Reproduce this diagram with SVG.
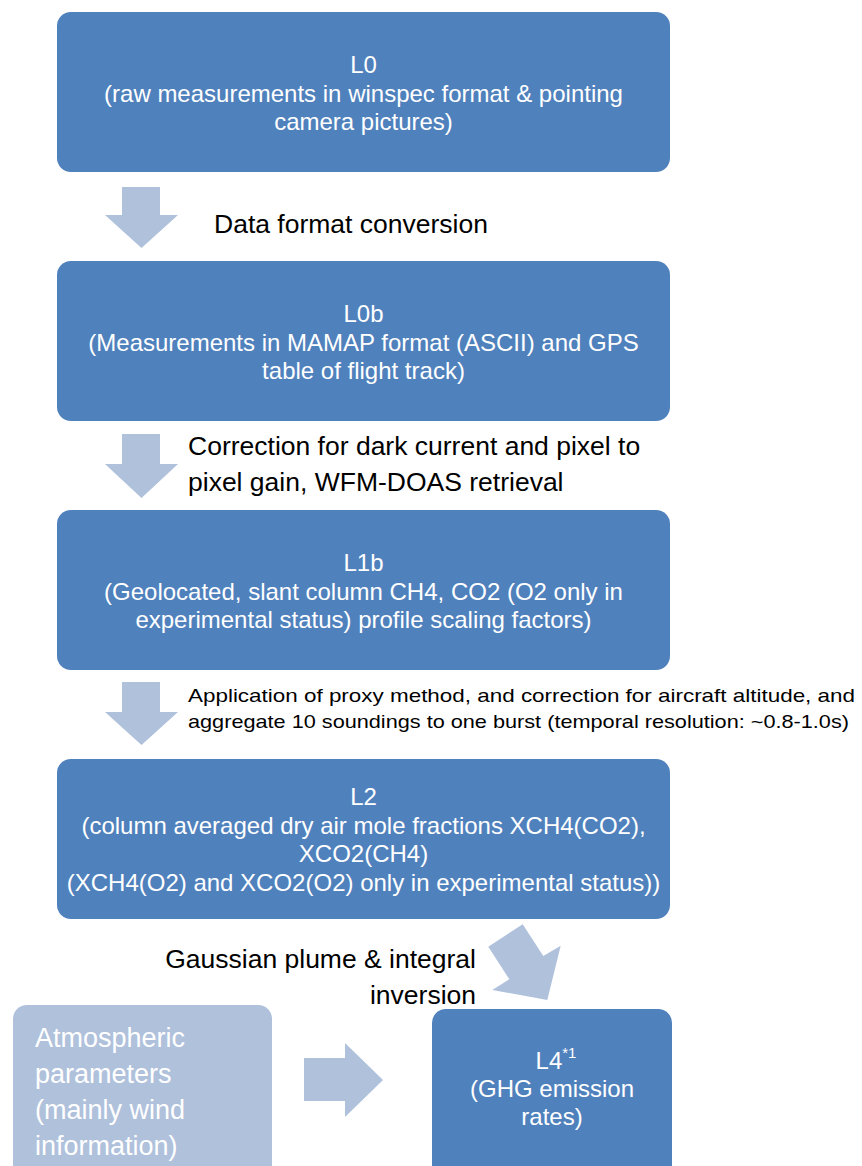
<svg xmlns="http://www.w3.org/2000/svg" width="862" height="1166" viewBox="0 0 862 1166">
<style>
.box{fill:#4F81BD;}
.lbox{fill:#B0C1DC;}
.arr{fill:#B0C1DC;}
.bt{font-family:"Liberation Sans",Arial,sans-serif;font-size:24px;fill:#fff;text-anchor:middle;}
.lt{font-family:"Liberation Sans",Arial,sans-serif;font-size:26.5px;fill:#000;}
.st{font-family:"Liberation Sans",Arial,sans-serif;font-size:19px;fill:#000;}
.at{font-family:"Liberation Sans",Arial,sans-serif;font-size:27px;fill:#fff;}
</style>
<rect width="862" height="1166" fill="#fff"/>
<g id="L0">
<rect class="box" x="57" y="12" width="613" height="160" rx="14"/>
<text class="bt" x="363.5" y="73">L0</text>
<text class="bt" x="363.5" y="102">(raw measurements in winspec format &amp; pointing</text>
<text class="bt" x="363.5" y="130">camera pictures)</text>
</g>
<g id="L0b">
<rect class="box" x="57" y="261" width="613" height="160" rx="14"/>
<text class="bt" x="363.5" y="322">L0b</text>
<text class="bt" x="363.5" y="351">(Measurements in MAMAP format (ASCII) and GPS</text>
<text class="bt" x="363.5" y="379">table of flight track)</text>
</g>
<g id="L1b">
<rect class="box" x="57" y="510" width="613" height="160" rx="14"/>
<text class="bt" x="363.5" y="571">L1b</text>
<text class="bt" x="363.5" y="600">(Geolocated, slant column CH4, CO2 (O2 only in</text>
<text class="bt" x="363.5" y="628">experimental status) profile scaling factors)</text>
</g>
<g id="L2">
<rect class="box" x="57" y="759" width="613" height="160" rx="14"/>
<text class="bt" x="363.5" y="805">L2</text>
<text class="bt" x="363.5" y="834">(column averaged dry air mole fractions XCH4(CO2),</text>
<text class="bt" x="363.5" y="862">XCO2(CH4)</text>
<text class="bt" x="363.5" y="891">(XCH4(O2) and XCO2(O2) only in experimental status))</text>
</g>
<g id="atmos">
<rect class="lbox" x="13" y="1005" width="259" height="175" rx="14"/>
<text class="at" x="35" y="1047">Atmospheric</text>
<text class="at" x="35" y="1083">parameters</text>
<text class="at" x="35" y="1119">(mainly wind</text>
<text class="at" x="35" y="1155">information)</text>
</g>
<g id="L4">
<rect class="box" x="432" y="1009" width="240" height="175" rx="14"/>
<text class="bt" x="556" y="1069">L4<tspan font-size="15" dy="-11">*1</tspan></text>
<text class="bt" x="552" y="1097">(GHG emission</text>
<text class="bt" x="552" y="1125">rates)</text>
</g>
<g id="connectors">
<polygon class="arr" points="122,187 160,187 160,215 178,215 141.5,248 105,215 122,215"/>
<polygon class="arr" points="122,434 160,434 160,464 178,464 141.5,498 105,464 122,464"/>
<polygon class="arr" points="122,682 160,682 160,712 178,712 141.5,745 105,712 122,712"/>
<polygon class="arr" points="488.3,946.7 522.7,924.3 543.3,956 560.7,945.7 547.3,1000 492.3,990 509.3,979.3"/>
<polygon class="arr" points="304,1058 345,1058 345,1043 383,1080 345,1117 345,1101 304,1101"/>
<text class="lt" x="214" y="233">Data format conversion</text>
<text class="lt" x="188" y="455">Correction for dark current and pixel to</text>
<text class="lt" x="188" y="491">pixel gain, WFM-DOAS retrieval</text>
<text class="st" x="188" y="702" textLength="667" lengthAdjust="spacingAndGlyphs">Application of proxy method, and correction for aircraft altitude, and</text>
<text class="st" x="188" y="728" textLength="661" lengthAdjust="spacingAndGlyphs">aggregate 10 soundings to one burst (temporal resolution: ~0.8-1.0s)</text>
<text class="lt" x="476" y="968" text-anchor="end">Gaussian plume &amp; integral</text>
<text class="lt" x="476" y="1004" text-anchor="end">inversion</text>
</g>
</svg>
